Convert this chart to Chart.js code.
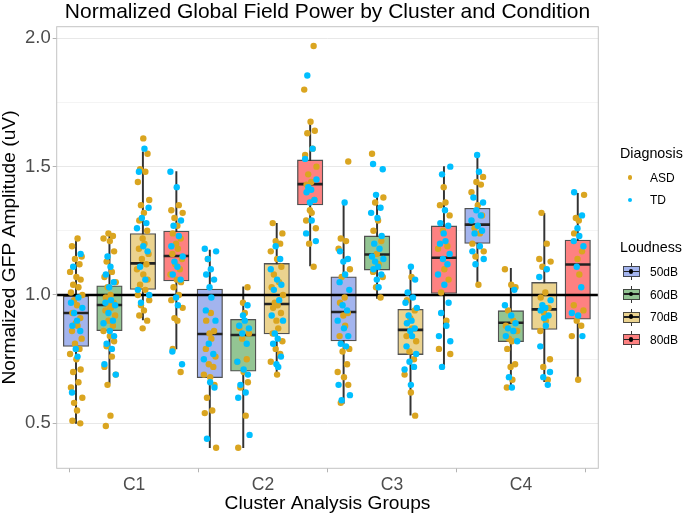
<!DOCTYPE html>
<html><head><meta charset="utf-8">
<script src="https://cdn.jsdelivr.net/npm/chart.js@4.4.1/dist/chart.umd.min.js"></script>
<style>
body{margin:0;background:#fff;}
#wrap{position:relative;width:685px;height:517px;background:#fff;overflow:hidden;font-family:'Liberation Sans',Arial,sans-serif;}
#c{position:absolute;left:0;top:0;}
.t{position:absolute;white-space:nowrap;color:#000;}
</style></head><body>
<div id="wrap"><canvas id="c" width="685" height="517"></canvas></div>
<script>
// ---------- data ----------
const chartTitle = 'Normalized Global Field Power by Cluster and Condition';
const xTitle = 'Cluster Analysis Groups';
const yTitle = 'Normalized GFP Amplitude (uV)';
const clusters = ['C1', 'C2', 'C3', 'C4'];
const loudness = ['50dB', '60dB', '70dB', '80dB'];
const diagnosis = ['ASD', 'TD'];
const yTicksMajor = [0.5, 1.0, 1.5, 2.0];
const yTicksMinor = [0.75, 1.25, 1.75];
const referenceLevel = 1.0;

// box statistics [cluster][loudness]
const whiskerLow  = [[0.50,0.656,0.903,0.79],[0.405,0.405,0.692,1.113],[0.578,0.987,0.532,0.72],[1.036,0.636,0.662,0.666]];
const q1          = [[0.80,0.861,1.022,1.055],[0.678,0.703,0.848,1.351],[0.821,1.097,0.768,1.006],[1.201,0.818,0.866,0.906]];
const medians     = [[0.93,0.961,1.123,1.152],[0.848,0.844,0.965,1.432],[0.934,1.158,0.864,1.145],[1.274,0.892,0.944,1.119]];
const q3          = [[0.996,1.036,1.239,1.249],[1.023,0.905,1.123,1.526],[1.071,1.23,0.944,1.269],[1.338,0.939,1.049,1.214]];
const whiskerHigh = [[1.22,1.24,1.558,1.481],[1.175,1.032,1.279,1.671],[1.357,1.383,1.11,1.50],[1.545,1.104,1.318,1.396]];

// individual subjects [cluster][loudness]
const asdValues = [
  [
    [1.22,1.19,1.15,1.14,1.12,1.09,1.07,1.06,1.04,1.03,1.01,1.00,0.98,0.96,0.93,0.91,0.89,0.88,0.86,0.83,0.81,0.79,0.77,0.75,0.71,0.70,0.66,0.64,0.60,0.58,0.55,0.51,0.50],
    [1.24,1.23,1.22,1.21,1.17,1.13,1.09,1.07,1.05,1.03,1.00,0.99,0.97,0.96,0.95,0.94,0.92,0.90,0.88,0.86,0.84,0.82,0.80,0.76,0.72,0.69,0.65,0.53,0.49],
    [1.61,1.55,1.49,1.48,1.44,1.37,1.35,1.32,1.29,1.25,1.22,1.20,1.18,1.16,1.14,1.12,1.10,1.08,1.06,1.04,1.02,1.00,0.98,0.96,0.94,0.92,0.90,0.87],
    [1.35,1.33,1.32,1.30,1.27,1.24,1.22,1.20,1.18,1.16,1.14,1.12,1.10,1.08,1.06,1.05,1.03,1.00,0.98,0.95,0.91,0.90,0.79,0.70]
  ],
  [
    [1.14,0.93,0.90,0.86,0.85,0.83,0.79,0.76,0.73,0.72,0.69,0.68,0.65,0.60,0.55,0.54,0.405],
    [1.03,0.97,0.93,0.87,0.85,0.83,0.75,0.74,0.70,0.66,0.64,0.53,0.405],
    [1.28,1.24,1.21,1.20,1.17,1.14,1.11,1.08,1.05,1.03,1.00,0.97,0.96,0.95,0.93,0.90,0.87,0.85,0.82,0.79,0.77,0.74,0.69],
    [1.97,1.80,1.675,1.64,1.63,1.57,1.545,1.50,1.47,1.44,1.43,1.37,1.33,1.32,1.29,1.26,1.20,1.11]
  ],
  [
    [1.52,1.22,1.21,1.18,1.10,1.07,0.99,0.97,0.93,0.92,0.88,0.84,0.79,0.78,0.73,0.70,0.68,0.65,0.58],
    [1.55,1.38,1.36,1.29,1.25,1.21,1.16,1.12,1.09,1.07,1.03,0.99],
    [1.07,0.98,0.94,0.91,0.87,0.84,0.82,0.78,0.75,0.69,0.62,0.53],
    [1.42,1.36,1.35,1.31,1.25,1.19,1.18,1.10,1.06,1.01,0.90,0.79,0.77]
  ],
  [
    [1.46,1.44,1.43,1.40,1.35,1.31,1.26,1.24,1.20,1.17,1.15,1.04],
    [1.10,1.04,1.03,0.94,0.90,0.88,0.86,0.83,0.82,0.79,0.73,0.72,0.67,0.64],
    [1.32,1.20,1.14,1.13,1.11,1.01,0.99,0.95,0.93,0.90,0.86,0.75,0.72,0.67],
    [1.39,1.30,1.29,1.24,1.17,1.14,1.08,0.96,0.94,0.90,0.88,0.84,0.67]
  ]
];
const tdValues = [
  [
    [1.16,1.11,0.99,0.97,0.95,0.93,0.90,0.88,0.86,0.79,0.76,0.62],
    [1.15,1.11,1.08,1.05,1.03,0.98,0.97,0.96,0.93,0.90,0.89,0.86,0.84,0.81,0.79,0.73,0.69],
    [1.57,1.48,1.34,1.30,1.28,1.26,1.19,1.17,1.11,1.06,1.02,1.00,0.97],
    [1.48,1.42,1.29,1.27,1.23,1.19,1.15,1.13,1.11,1.08,1.06,0.99,0.96,0.78,0.73]
  ],
  [
    [1.18,1.17,1.14,1.10,1.08,1.06,1.03,0.99,0.94,0.90,0.81,0.77,0.75,0.66,0.64,0.44],
    [0.96,0.92,0.90,0.88,0.87,0.85,0.81,0.74,0.71,0.69,0.65,0.62,0.60,0.455],
    [1.19,1.14,1.10,1.06,1.04,1.02,0.98,0.92,0.90,0.85,0.83,0.81,0.76,0.73,0.72],
    [1.855,1.57,1.53,1.45,1.42,1.41,1.40,1.37,1.36,1.29,1.24,1.21]
  ],
  [
    [1.36,1.17,1.14,1.13,1.08,1.05,1.02,0.96,0.94,0.90,0.87,0.84,0.81,0.80,0.65,0.61,0.59],
    [1.51,1.49,1.39,1.34,1.32,1.30,1.23,1.20,1.18,1.15,1.14,1.13,1.11,1.10,1.08,1.06,1.03],
    [1.11,1.06,1.01,0.99,0.97,0.95,0.92,0.90,0.89,0.87,0.86,0.84,0.80,0.77,0.74,0.72,0.71,0.65],
    [1.50,1.47,1.33,1.28,1.27,1.24,1.21,1.20,1.16,1.14,1.12,1.08,1.04,0.97,0.93,0.88,0.84,0.82,0.72]
  ],
  [
    [1.545,1.48,1.38,1.36,1.33,1.31,1.29,1.27,1.25,1.24,1.19,1.17,1.14,1.12],
    [1.02,0.96,0.92,0.89,0.87,0.86,0.84,0.82,0.68,0.64],
    [1.10,1.07,0.98,0.96,0.95,0.94,0.92,0.91,0.88,0.80,0.70,0.68,0.65],
    [1.40,1.31,1.26,1.23,1.21,1.19,1.11,1.03,0.93,0.92,0.84]
  ]
];

// ---------- styles / layout ----------
const FONT = "'Liberation Sans', Arial, sans-serif";
const loudnessColors = ['#a3b4ee', '#93c593', '#ebd38f', '#fe8181'];
const diagnosisColors = ['#daa520', '#00bfff'];
const firstBoxX = 0.5497, boxStep = 0.2594;           // slot layout along the x axis
const jitterPattern = [0.012,-0.031,0.044,-0.008,0.027,-0.046,0.003,0.036,-0.022,0.019,-0.039,0.049,-0.015,0.008,-0.028,0.033,-0.002];

function boxX(ci, li) { return firstBoxX + boxStep * (ci * loudness.length + li); }

Chart.defaults.font.family = FONT;

const boxData = [], boxColors = [], whiskerData = [], medianData = [];
const asdData = [], tdData = [];
clusters.forEach((c, ci) => {
  loudness.forEach((l, li) => {
    const x = boxX(ci, li);
    boxData.push({x, y: [q1[ci][li], q3[ci][li]]});
    boxColors.push(loudnessColors[li]);
    whiskerData.push({x, y: [whiskerLow[ci][li], whiskerHigh[ci][li]]});
    medianData.push({x, y: medians[ci][li]});
    const b = ci * 4 + li;
    asdValues[ci][li].forEach((v, i) => asdData.push({x: x + jitterPattern[(i + b * 3) % jitterPattern.length], y: v}));
    tdValues[ci][li].forEach((v, i) => tdData.push({x: x + jitterPattern[(i + b * 5 + 7) % jitterPattern.length], y: v}));
  });
});

const panelBorder = {
  id: 'panelBorder',
  afterDatasetsDraw(chart) {
    const {ctx, chartArea: a} = chart;
    ctx.save();
    ctx.strokeStyle = '#c4c4c4';
    ctx.lineWidth = 1;
    ctx.strokeRect(a.left, a.top, a.right - a.left, a.bottom - a.top);
    ctx.restore();
  }
};

const isMajor = v => yTicksMajor.some(m => Math.abs(m - v) < 1e-9);

new Chart(document.getElementById('c'), {
  type: 'scatter',
  data: {
    datasets: [
      {type: 'scatter', label: diagnosis[1], data: tdData, order: 0, pointRadius: 3.2, pointHoverRadius: 3.2,
        backgroundColor: diagnosisColors[1], borderWidth: 0},
      {type: 'scatter', label: diagnosis[0], data: asdData, order: 1, pointRadius: 3.2, pointHoverRadius: 3.2,
        backgroundColor: diagnosisColors[0], borderWidth: 0},
      {type: 'line', label: 'ref', data: [{x: 0.4, y: referenceLevel}, {x: 4.6, y: referenceLevel}], order: 2,
        borderColor: '#000', borderWidth: 2.6, pointRadius: 0, fill: false},
      {type: 'scatter', label: 'median', data: medianData, order: 3, pointStyle: 'line', pointRadius: 12.6,
        pointBorderWidth: 2.6, pointBorderColor: '#222', borderColor: '#222', backgroundColor: '#222'},
      {type: 'bar', label: 'box', data: boxData, order: 4, grouped: false, barThickness: 25.5,
        backgroundColor: boxColors, borderColor: 'rgba(50,50,50,0.85)', borderWidth: 1.3, borderSkipped: false},
      {type: 'bar', label: 'whisker', data: whiskerData, order: 5, grouped: false, barThickness: 1.3,
        backgroundColor: '#333', borderWidth: 0}
    ]
  },
  options: {
    responsive: false, devicePixelRatio: 1, animation: false,
    layout: {padding: {top: 26.7, right: 86.7, left: 0, bottom: 0}},
    plugins: {legend: {display: false}, tooltip: {enabled: false}},
    scales: {
      x: {
        type: 'linear', min: 0.4, max: 4.6, offset: false,
        afterBuildTicks: s => { s.ticks = clusters.map((c, i) => ({value: i + 1})); },
        afterFit: s => { s.height = 48.7; },
        ticks: {callback: v => clusters[Math.round(v) - 1], color: '#4d4d4d', font: {size: 17.5}, padding: 2, autoSkip: false, maxRotation: 0},
        grid: {display: true, drawOnChartArea: false, drawTicks: true, tickLength: 4, tickColor: '#b3b3b3'},
        border: {display: false},
        title: {display: true, text: xTitle, color: '#000', font: {size: 19.2}, padding: {top: 0, bottom: 2}}
      },
      y: {
        type: 'linear', min: 0.325, max: 2.045,
        afterBuildTicks: s => { s.ticks = yTicksMajor.concat(yTicksMinor).sort((a, b) => a - b).map(v => ({value: v})); },
        afterFit: s => { s.width = 56.7; },
        ticks: {callback: v => isMajor(v) ? v.toFixed(1) : '', color: '#4d4d4d', font: {size: 18.5}, padding: 2, autoSkip: false},
        grid: {
          color: c => isMajor(c.tick.value) ? '#e8e8e8' : '#f4f4f4', lineWidth: 1,
          tickLength: 4, tickColor: c => isMajor(c.tick.value) ? '#b3b3b3' : 'rgba(0,0,0,0)'
        },
        border: {display: false},
        title: {display: true, text: yTitle, color: '#000', font: {size: 19.2, lineHeight: 1.0}, padding: {top: 0, bottom: 0}}
      }
    }
  },
  plugins: [panelBorder]
});

// ---------- HTML title and legend ----------
const wrap = document.getElementById('wrap');
function addText(txt, css) {
  const d = document.createElement('div');
  d.className = 't';
  d.textContent = txt;
  Object.assign(d.style, css);
  wrap.appendChild(d);
  return d;
}
addText(chartTitle, {left: '56.7px', width: '541.6px', textAlign: 'center', top: '-0.5px', fontSize: '21px', lineHeight: '21px'});

addText('Diagnosis', {left: '620px', top: '144.5px', fontSize: '14.3px', lineHeight: '16px'});
diagnosis.forEach((d, i) => {
  const cy = 177.3 + i * 22.8;
  const dot = document.createElement('div');
  Object.assign(dot.style, {position: 'absolute', left: (630 - 2.4) + 'px', top: (cy - 2.4) + 'px', width: '4.8px', height: '4.8px',
    borderRadius: '50%', background: diagnosisColors[i]});
  wrap.appendChild(dot);
  addText(d, {left: '650px', top: (cy - 6.8) + 'px', fontSize: '12px', lineHeight: '14px'});
});

addText('Loudness', {left: '620px', top: '238.8px', fontSize: '14.3px', lineHeight: '16px'});
loudness.forEach((l, i) => {
  const cy = 271.5 + i * 22.8;
  const k = document.createElement('div');
  Object.assign(k.style, {position: 'absolute', left: '622.5px', top: (cy - 8.5) + 'px', width: '17px', height: '17px'});
  k.innerHTML =
    `<div style="position:absolute;left:8px;top:0;width:1px;height:17px;background:#333"></div>` +
    `<div style="position:absolute;left:0;top:3px;width:15px;height:9px;border:1px solid rgba(50,50,50,0.85);background:${loudnessColors[i]}"></div>` +
    `<div style="position:absolute;left:1px;top:7.5px;width:15px;height:1.6px;background:#222"></div>` +
    `<div style="position:absolute;left:6.1px;top:5.9px;width:4.8px;height:4.8px;border-radius:50%;background:#000"></div>`;
  wrap.appendChild(k);
  addText(l, {left: '650px', top: (cy - 6.8) + 'px', fontSize: '12px', lineHeight: '14px'});
});
</script>
</body></html>
